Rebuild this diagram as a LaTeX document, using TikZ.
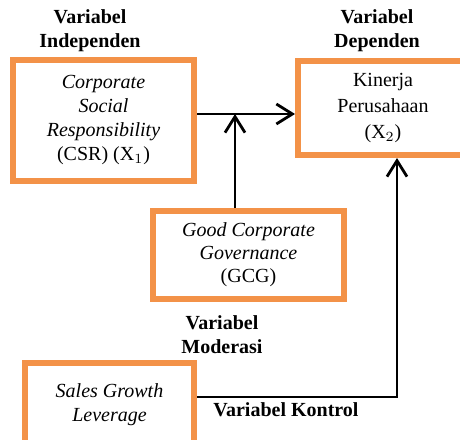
\documentclass[tikz,border=0pt]{standalone}
\usepackage{fontspec}
\setmainfont{Liberation Serif}
\usetikzlibrary{arrows.meta}
\definecolor{boxorange}{RGB}{243,146,72}
\tikzset{
  varbox/.style={draw=boxorange, line width=3pt, align=center, inner sep=0pt,
    font=\fontsize{10}{12}\selectfont},
  varlabel/.style={align=center, font=\fontsize{10}{12}\selectfont\bfseries},
  link/.style={line width=1.4pt, -{Straight Barb[length=8pt,width=10pt,line width=1.4pt]}}
}
\begin{document}
\begin{tikzpicture}[x=0.5pt,y=-0.5pt]
\useasboundingbox (0,0) rectangle (460,439);
\node[varbox, minimum width=90.5pt, minimum height=60.5pt] (csr) at (103.5,120.5)
  {\itshape Corporate\\ \itshape Social\\ \itshape Responsibility\\ (CSR) (X$_1$)};
\node[varbox, minimum width=85pt, minimum height=47pt,
  font=\fontsize{10}{13}\selectfont] (kin) at (383,108)
  {Kinerja\\ Perusahaan\\ (X$_2$)};
\node[varbox, minimum width=95.5pt, minimum height=44pt,
  font=\fontsize{10}{11.5}\selectfont] (gcg) at (248.5,255)
  {\itshape Good Corporate\\ \itshape Governance\\ (GCG)};
\node[varbox, minimum width=84.5pt, minimum height=42pt] (sgl) at (109.5,405)
  {\itshape Sales Growth\\ \itshape Leverage};
% labels
\node[varlabel] (lind) at (90,31) {Variabel\\ Independen};
\node[varlabel] (ldep) at (377,31) {Variabel\\ Dependen};
\node[varlabel] (lmod) at (222,335) {Variabel\\ Moderasi};
\node[varlabel] (lkon) at (286,410) {Variabel Kontrol};
% connectors
\coordinate (mid) at (235,114);
\coordinate (ctl) at (397,397);
\draw[link] (csr.east |- mid) -- (kin.west |- mid);
\draw[link] (gcg.north -| mid) -- (mid);
\draw[link] (sgl.east |- ctl) -- (ctl) -- (kin.south -| ctl);
\end{tikzpicture}
\end{document}
